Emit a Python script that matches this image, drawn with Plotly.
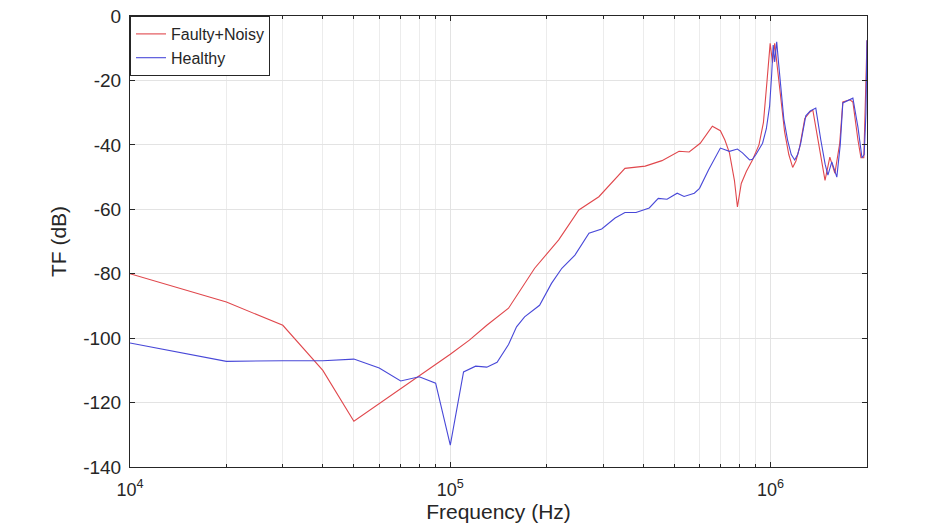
import plotly.graph_objects as go
import numpy as np

# Faulty+Noisy (red)
faulty_f = [1e4, 2e4, 3e4, 4e4, 5e4, 6e4, 7e4, 8e4, 9e4, 1e5, 1.147e5, 1.3e5, 1.52e5,
            1.834e5, 2.18e5, 2.52e5, 2.91e5, 3.24e5, 3.51e5, 4.06e5, 4.58e5, 5.18e5,
            5.57e5, 6.03e5, 6.58e5, 6.97e5, 7.2e5, 7.44e5, 7.71e5, 7.88e5, 8.1e5, 8.4e5,
            8.78e5, 9.2e5, 9.5e5, 9.75e5, 9.97e5, 1.014e6, 1.03e6, 1.05e6, 1.075e6,
            1.106e6, 1.14e6, 1.172e6, 1.2e6, 1.233e6, 1.279e6, 1.327e6, 1.355e6, 1.404e6,
            1.479e6, 1.531e6, 1.588e6, 1.644e6, 1.681e6, 1.769e6, 1.807e6, 1.874e6,
            1.915e6, 1.955e6, 1.98e6, 2.0e6]
faulty_db = [-80, -88.8, -96, -110, -125.8, -120.3, -115.5, -111.6, -108.2, -105, -100.6, -96, -90.7,
             -78.3, -69.5, -60.2, -56.1, -50.9, -47.3, -46.6, -44.9, -42,
             -42.2, -39.5, -34.2, -35.6, -38.5, -42.5, -51, -59.3, -52, -48.3,
             -44.7, -40, -33, -20, -8.5, -14.5, -8.5, -16, -26,
             -36, -43, -47, -45, -40.6, -31.8, -29.8, -29.2, -38.5,
             -51, -43.8, -48.8, -39.5, -26.7, -26, -26.7, -38.5,
             -44, -44, -25, -7.5]

# Healthy (blue)
healthy_f = [1e4, 2e4, 3e4, 4e4, 5e4, 6e4, 7e4, 8e4, 9e4, 1e5, 1.1e5, 1.2e5, 1.3e5, 1.4e5,
             1.52e5, 1.61e5, 1.706e5, 1.9e5, 2.07e5, 2.23e5, 2.45e5, 2.71e5, 2.97e5,
             3.27e5, 3.51e5, 3.8e5, 4.18e5, 4.46e5, 4.75e5, 5.11e5, 5.37e5, 5.78e5,
             6.0e5, 6.4e5, 6.97e5, 7.44e5, 7.88e5, 8.17e5, 8.6e5, 8.78e5, 9.0e5, 9.44e5,
             9.7e5, 9.93e5, 1.008e6, 1.019e6, 1.03e6, 1.045e6, 1.06e6, 1.075e6, 1.10e6,
             1.13e6, 1.16e6, 1.189e6, 1.215e6, 1.242e6, 1.288e6, 1.33e6, 1.384e6,
             1.435e6, 1.48e6, 1.51e6, 1.553e6, 1.61e6, 1.65e6, 1.681e6, 1.76e6, 1.807e6,
             1.874e6, 1.929e6, 1.96e6, 1.985e6, 2.0e6]
healthy_db = [-101.5, -107.2, -107, -107, -106.5, -109.3, -113.3, -112, -114, -133.2, -110.5, -108.7, -109, -107.5,
              -102, -96.5, -93.4, -89.8, -83, -78.3, -74.2, -67.4, -66.1,
              -62.7, -61, -61, -59.6, -56.6, -56.9, -55, -56, -55,
              -53.5, -47.8, -41, -42, -41.3, -42.5, -44.7, -44.5, -43, -39.5,
              -35, -28, -18, -9, -14.3, -8, -15, -22, -32,
              -38.5, -43, -44.7, -43, -39.5, -31, -29.5, -28.6,
              -38.5, -46, -49.4, -45.3, -50, -40, -27, -26, -25.5,
              -34.5, -44, -43, -30, -7.5]

x_tickvals = [1e4, 1e5, 1e6]
x_ticktext = ["10<sup>4</sup>", "10<sup>5</sup>", "10<sup>6</sup>"]
x_minor_tickvals = [m * 10 ** d for d in (4, 5) for m in range(2, 10)] + [2e6]
y_tickvals = [0, -20, -40, -60, -80, -100, -120, -140]
y_ticktext = ["0", "-20", "-40", "-60", "-80", "-100", "-120", "-140"]

fig = go.Figure()
fig.add_trace(go.Scatter(x=faulty_f, y=faulty_db, mode="lines", name="Faulty+Noisy",
                         line=dict(color="#e0474c", width=1.1)))
fig.add_trace(go.Scatter(x=healthy_f, y=healthy_db, mode="lines", name="Healthy",
                         line=dict(color="#4848d8", width=1.1)))

axcol = "#262626"
gridcol = "#e3e3e3"
fig.update_layout(
    width=945, height=529,
    margin=dict(l=130, r=78, t=16, b=62),
    paper_bgcolor="white", plot_bgcolor="white",
    font=dict(family="Liberation Sans, Arial, sans-serif", color=axcol, size=18),
    showlegend=True,
    legend=dict(x=0, y=1, xanchor="left", yanchor="top",
                bgcolor="white", bordercolor=axcol, borderwidth=1,
                font=dict(size=16), tracegroupgap=0,
                itemwidth=30),
)
fig.update_xaxes(
    type="log", range=[4, np.log10(2.0e6)],
    tickvals=x_tickvals, ticktext=x_ticktext,
    ticks="inside", ticklen=5, tickcolor=axcol,
    showline=True, linecolor=axcol, linewidth=1, mirror="ticks",
    showgrid=True, gridcolor=gridcol, gridwidth=1,
    minor=dict(tickvals=x_minor_tickvals, ticks="inside", ticklen=3, tickcolor=axcol,
               showgrid=True, gridcolor="#ececec", gridwidth=1),
    zeroline=False, automargin=False,
    ticklabelstandoff=6,
    title=dict(text="Frequency (Hz)", font=dict(size=21), standoff=4),
    tickfont=dict(size=18),
)
fig.update_yaxes(
    range=[-140, 0], tickvals=y_tickvals, ticktext=y_ticktext,
    ticks="inside", ticklen=5, tickcolor=axcol,
    showline=True, linecolor=axcol, linewidth=1, mirror="ticks",
    showgrid=True, gridcolor=gridcol, gridwidth=1,
    zeroline=False, automargin=False,
    ticklabelstandoff=4,
    title=dict(text="TF (dB)", font=dict(size=21), standoff=10),
    tickfont=dict(size=19),
)

fig.write_html("out.html")
